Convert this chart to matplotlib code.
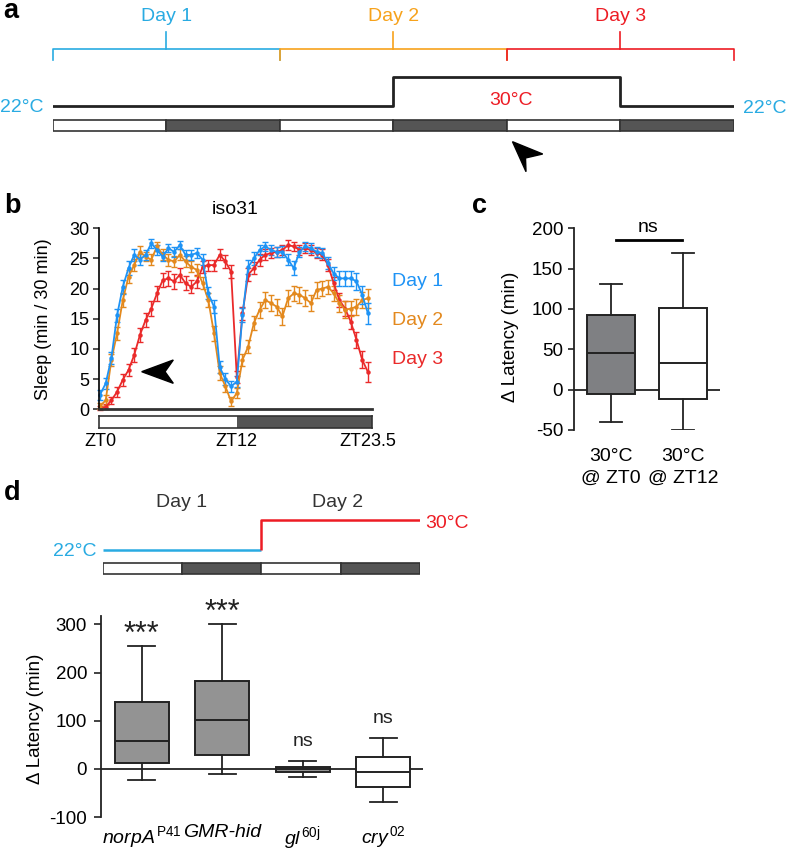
import numpy as np
import matplotlib
matplotlib.use("Agg")
import matplotlib.pyplot as plt
from matplotlib.patches import Polygon, Rectangle

plt.rcParams['font.family'] = ['Liberation Sans', 'DejaVu Sans']
plt.rcParams['mathtext.fontset'] = 'custom'
plt.rcParams['mathtext.rm'] = 'Liberation Sans'
plt.rcParams['mathtext.it'] = 'Liberation Sans:italic'
plt.rcParams['axes.unicode_minus'] = False

# ---------------- data ----------------
# panel a: schedule
DAYS_A = ["Day 1", "Day 2", "Day 3"]
DAY_COLORS = ["#29ABE2", "#F7A21B", "#ED1C24"]
TEMP_A_HOURS = [0, 36, 60, 72]
TEMP_A = [22, 30, 22]
LD_A = ["L", "D", "L", "D", "L", "D"]

# panel b: sleep per 30 min bin, ZT0..ZT23.5
ZT_HOURS = np.arange(0, 24, 0.5)
SLEEP_DAY1 = [2.4, 4.3, 8.5, 15.6, 20.3, 23.4, 25.6, 24.8, 25.6, 27.5, 26.4, 25.3,
              26.7, 26.1, 27.2, 25.6, 25.6, 25.9, 24.8, 19.2, 17.0, 7.0, 5.0, 3.8,
              4.6, 15.6, 23.6, 25.0, 26.4, 27.0, 26.4, 26.1, 26.1, 24.8, 23.4, 26.1,
              27.0, 26.7, 26.1, 25.9, 24.2, 22.5, 21.7, 21.7, 21.7, 21.2, 19.0, 15.9]
SLEEP_DAY2 = [0.5, 1.5, 8.2, 12.6, 18.1, 22.0, 23.9, 26.1, 25.3, 24.8, 27.0, 25.6,
              24.8, 24.5, 25.6, 24.5, 23.6, 23.1, 20.9, 18.1, 12.6, 6.0, 3.8, 1.3,
              2.7, 8.2, 10.4, 14.3, 16.5, 18.1, 17.6, 17.0, 15.4, 18.4, 19.2, 19.0,
              18.4, 17.6, 19.8, 20.0, 20.3, 19.2, 17.6, 16.5, 16.7, 17.0, 18.1, 18.4]
SLEEP_DAY3 = [0.2, 0.4, 1.5, 2.9, 4.9, 6.5, 9.0, 12.3, 14.8, 16.7, 19.2, 21.4,
              21.7, 21.2, 22.3, 20.9, 20.3, 21.2, 23.6, 23.9, 23.9, 25.6, 24.5, 22.8,
              5.4, 15.9, 22.3, 23.4, 24.8, 25.6, 25.9, 26.1, 26.4, 27.2, 27.0, 26.4,
              26.7, 26.4, 25.9, 25.6, 23.9, 20.9, 18.1, 16.7, 14.5, 11.5, 8.2, 6.2]
SEM_DAY1 = [0.8, 0.9, 1.0, 1.1, 1.2, 1.1, 1.0, 0.9, 0.8, 0.7, 0.8, 0.8,
            0.7, 0.8, 0.7, 0.8, 0.8, 0.9, 0.9, 1.0, 1.1, 1.0, 1.0, 0.9,
            0.9, 1.2, 1.2, 1.0, 0.9, 0.8, 0.8, 0.8, 0.9, 0.9, 1.1, 0.8,
            0.8, 0.8, 0.8, 0.9, 1.0, 1.1, 1.2, 1.3, 1.3, 1.4, 1.5, 1.7]
SEM_DAY2 = [0.5, 0.8, 1.0, 1.1, 1.2, 1.1, 1.0, 0.9, 0.8, 0.9, 0.8, 0.9,
            1.0, 0.9, 0.9, 0.9, 0.9, 1.0, 1.0, 1.1, 1.2, 1.1, 1.0, 0.8,
            0.9, 1.0, 1.1, 1.2, 1.3, 1.3, 1.3, 1.3, 1.4, 1.3, 1.3, 1.3,
            1.3, 1.3, 1.3, 1.2, 1.2, 1.3, 1.4, 1.4, 1.3, 1.3, 1.3, 1.6]
SEM_DAY3 = [0.3, 0.4, 0.6, 0.8, 1.0, 1.0, 1.1, 1.2, 1.2, 1.2, 1.2, 1.2,
            1.2, 1.2, 1.2, 1.2, 1.1, 1.1, 1.0, 0.9, 0.9, 0.9, 1.0, 1.1,
            1.0, 1.1, 1.1, 1.0, 1.0, 0.9, 0.9, 0.8, 0.8, 0.8, 0.8, 0.8,
            0.8, 0.8, 0.8, 0.9, 1.0, 1.1, 1.1, 1.2, 1.2, 1.3, 1.4, 1.6]
LINE_COLORS = ["#1E93F5", "#E3891E", "#EA2A2A"]

# panel c: boxplot stats
C_LABELS = ["30°C\n@ ZT0", "30°C\n@ ZT12"]
C_WHISK_LO = [-40, -50]
C_Q1 = [-5, -12]
C_MED = [45, 33]
C_Q3 = [92, 101]
C_WHISK_HI = [131, 170]
C_FILLS = ["#7F8083", "white"]

# panel d
D_TEMPS = [22, 30]
D_DAYS = ["Day 1", "Day 2"]
LD_D = ["L", "D", "L", "D"]
D_LABELS = ["norpA$^{\\,\\mathrm{P41}}$", "GMR-hid", "gl$^{\\,\\mathrm{60j}}$", "cry$^{\\,\\mathrm{02}}$"]
D_WHISK_LO = [-23, -10, -17, -68]
D_Q1 = [12, 30, -6, -37]
D_MED = [59, 102, 1, -6]
D_Q3 = [138, 183, 5, 24]
D_WHISK_HI = [256, 301, 16, 64]
D_SIG = ["***", "***", "ns", "ns"]
D_FILLS = ["#939393", "#939393", "#939393", "white"]

DARK = "#555555"
EDGE = "#222222"

W, H = 787, 851
fig = plt.figure(figsize=(W/100, H/100), dpi=100)


def px_axes(x0, y0, x1, y1, **kw):
    return fig.add_axes([x0/W, 1 - y1/H, (x1 - x0)/W, (y1 - y0)/H], **kw)


ov = px_axes(0, 0, W, H, zorder=10)
ov.set_xlim(0, W); ov.set_ylim(H, 0); ov.axis("off")

for lab, x, y in (("a", 3, 18), ("b", 4, 213), ("c", 472, 213), ("d", 4, 500)):
    ov.text(x, y, lab, fontsize=19.5, fontweight="bold", va="baseline")

# ---------------- a ----------------
ax = px_axes(52.8, 0, 733.7, 180)
ax.set_xlim(0, 72); ax.set_ylim(180, 0); ax.axis("off")
for k, (name, col) in enumerate(zip(DAYS_A, DAY_COLORS)):
    x0, x1 = 24*k, 24*(k + 1)
    ax.plot([x0, x0, x1, x1], [60, 49, 49, 60], color=col, lw=1.2, clip_on=False)
    ax.plot([(x0 + x1)/2]*2, [31.5, 49], color=col, lw=1.2)
    ax.text((x0 + x1)/2, 20.7, name, color=col, ha="center", va="baseline", fontsize=14)

ty = [106 - (T - 22)*29.3/8 for T in TEMP_A]
ax.step(TEMP_A_HOURS, ty + [ty[-1]], where="post", color="#222222", lw=2)
ax.text(-1.0, 112.5, "22°C", color=DAY_COLORS[0], ha="right", va="baseline", fontsize=14)
ax.text(73.0, 113, "22°C", color=DAY_COLORS[0], ha="left", va="baseline", fontsize=14)
ax.text(48.5, 105, "30°C", color=DAY_COLORS[2], ha="center", va="baseline", fontsize=14)
for k, ph in enumerate(LD_A):
    ax.add_patch(Rectangle((12*k, 120), 12, 11, facecolor="white" if ph == "L" else DARK,
                           edgecolor="#333333", lw=1.2))
ov.add_patch(Polygon([(512.5, 141.7), (542.7, 154), (525.5, 158), (526, 171.7)],
                     closed=True, color="black"))

# ---------------- b ----------------
xl = (-0.088, 23.86)
ax = px_axes(99, 228.3, 372, 409.3)
series = [(SLEEP_DAY3, SEM_DAY3, LINE_COLORS[2]),
          (SLEEP_DAY2, SEM_DAY2, LINE_COLORS[1]),
          (SLEEP_DAY1, SEM_DAY1, LINE_COLORS[0])]
for vals, sem, col in series:
    ax.errorbar(ZT_HOURS, vals, yerr=sem, color=col, lw=1.3, marker="o", ms=2.2,
                capsize=2.3, capthick=1, elinewidth=1, clip_on=False)
ax.set_xlim(*xl); ax.set_ylim(0, 30)
ax.set_yticks([0, 5, 10, 15, 20, 25, 30])
ax.set_xticks([])
ax.tick_params(axis="y", labelsize=13, length=4, width=1.1, pad=3, color="#222222")
for s in ("top", "right"):
    ax.spines[s].set_visible(False)
ax.spines["left"].set_linewidth(1.2)
ax.spines["bottom"].set_linewidth(2)
ax.spines["bottom"].set_color("#333333")
ax.set_title("iso31", fontsize=14, pad=10)
ov.text(44, 319, "Sleep (min / 30 min)", rotation=90, ha="center", va="center", fontsize=13)
for k, name in enumerate(DAYS_A):
    ov.text(392, 286.5 + 38.5*k, name, color=LINE_COLORS[k], fontsize=14, va="baseline")
ov.add_patch(Polygon([(141.7, 371.7), (173.3, 360), (165, 371.7), (173.3, 383.3)],
                     closed=True, color="black"))

axb = px_axes(99, 416, 372, 428)
axb.set_xlim(*xl); axb.set_ylim(0, 1)
axb.add_patch(Rectangle((xl[0], 0), 12 - xl[0], 1, facecolor="white", edgecolor="none"))
axb.add_patch(Rectangle((12, 0), xl[1] - 12, 1, facecolor=DARK, edgecolor="none"))
for s in axb.spines.values():
    s.set_linewidth(1.2); s.set_color("#333333")
axb.set_yticks([])
axb.set_xticks([0, 12, 23.5], ["ZT0", "ZT12", "ZT23.5"])
axb.tick_params(axis="x", length=0, labelsize=13, pad=3.5)


def boxes(ax, lo, q1, med, q3, hi, fills, capw):
    stats = [dict(whislo=a, q1=b, med=c, q3=d, whishi=e, fliers=[])
             for a, b, c, d, e in zip(lo, q1, med, q3, hi)]
    pos = list(range(1, len(stats) + 1))
    bp = ax.bxp(stats, positions=pos, widths=0.67, capwidths=capw, patch_artist=True,
                showfliers=False,
                boxprops=dict(lw=1.4, edgecolor=EDGE),
                medianprops=dict(color=EDGE, lw=1.4),
                whiskerprops=dict(color=EDGE, lw=1.3),
                capprops=dict(color=EDGE, lw=1.3))
    for p, fc in zip(bp["boxes"], fills):
        p.set_facecolor(fc)
        p.set_zorder(3)
    for key in ("medians", "whiskers", "caps"):
        for l in bp[key]:
            l.set_zorder(3.5)
    ax.axhline(0, color=EDGE, lw=1.3, zorder=1)
    for s in ("top", "right", "bottom"):
        ax.spines[s].set_visible(False)
    ax.spines["left"].set_linewidth(1.3)
    ax.spines["left"].set_color(EDGE)


# ---------------- c ----------------
ax = px_axes(574.3, 228.3, 720, 430)
boxes(ax, C_WHISK_LO, C_Q1, C_MED, C_Q3, C_WHISK_HI, C_FILLS, 0.31)
ax.set_xlim(0.49, 2.51); ax.set_ylim(-50, 200)
ax.set_yticks([-50, 0, 50, 100, 150, 200])
ax.set_xticks([1, 2], C_LABELS, linespacing=1.35)
ax.tick_params(axis="y", labelsize=13.5, length=4.5, width=1.2, pad=3.5, color=EDGE)
ax.tick_params(axis="x", labelsize=14, length=0, pad=13)
ax.plot([1.067, 1.989], [185, 185], color="black", lw=2, clip_on=False)
ov.text(648, 232.3, "ns", ha="center", va="baseline", fontsize=14)
ov.text(510.5, 337, "Δ Latency (min)", rotation=90, ha="center", va="center", fontsize=13.5)

# ---------------- d schematic ----------------
ax = px_axes(102.7, 480, 420, 580)
ax.set_xlim(0, 48); ax.set_ylim(100, 0); ax.axis("off")
dy = [70 - (T - 22)*30/8 for T in D_TEMPS]
ax.plot([0, 24], [dy[0], dy[0]], color=DAY_COLORS[0], lw=1.8, solid_capstyle="butt")
ax.plot([24, 24, 48], [dy[0], dy[1], dy[1]], color=DAY_COLORS[2], lw=1.8,
        solid_capstyle="butt")
ax.text(-0.9, dy[0] + 6, "22°C", color=DAY_COLORS[0], ha="right", va="baseline", fontsize=14)
ax.text(48.8, dy[1] + 8, "30°C", color=DAY_COLORS[2], ha="left", va="baseline", fontsize=14)
for k, name in enumerate(D_DAYS):
    ax.text(12 + 23.5*k, 26.7, name, color="#333333", ha="center", va="baseline", fontsize=14)
for k, ph in enumerate(LD_D):
    ax.add_patch(Rectangle((12*k, 83.3), 12, 11, facecolor="white" if ph == "L" else DARK,
                           edgecolor="#333333", lw=1.2))

# ---------------- d boxes ----------------
ax = px_axes(101, 615.7, 423.3, 817.2)
boxes(ax, D_WHISK_LO, D_Q1, D_MED, D_Q3, D_WHISK_HI, D_FILLS, 0.34)
ax.set_xlim(0.494, 4.497); ax.set_ylim(-100, 318)
ax.set_yticks([-100, 0, 100, 200, 300])
ax.set_xticks([1, 2, 3, 4], D_LABELS, fontstyle="italic")
ax.tick_params(axis="y", labelsize=13.5, length=5, width=1.2, pad=5, color=EDGE)
ax.tick_params(axis="x", labelsize=14, length=0, pad=5)
for k, (sig, top) in enumerate(zip(D_SIG, D_WHISK_HI)):
    if sig == "***":
        ax.annotate(sig, (k + 1, top), xytext=(0, -3), textcoords="offset points",
                    ha="center", va="bottom", fontsize=22, color="#222222")
    else:
        ax.annotate(sig, (k + 1, top), xytext=(0, 8), textcoords="offset points",
                    ha="center", va="bottom", fontsize=14, color="#222222")
ov.text(35, 719, "Δ Latency (min)", rotation=90, ha="center", va="center", fontsize=13.5)

fig.savefig("out.png", dpi=100)
